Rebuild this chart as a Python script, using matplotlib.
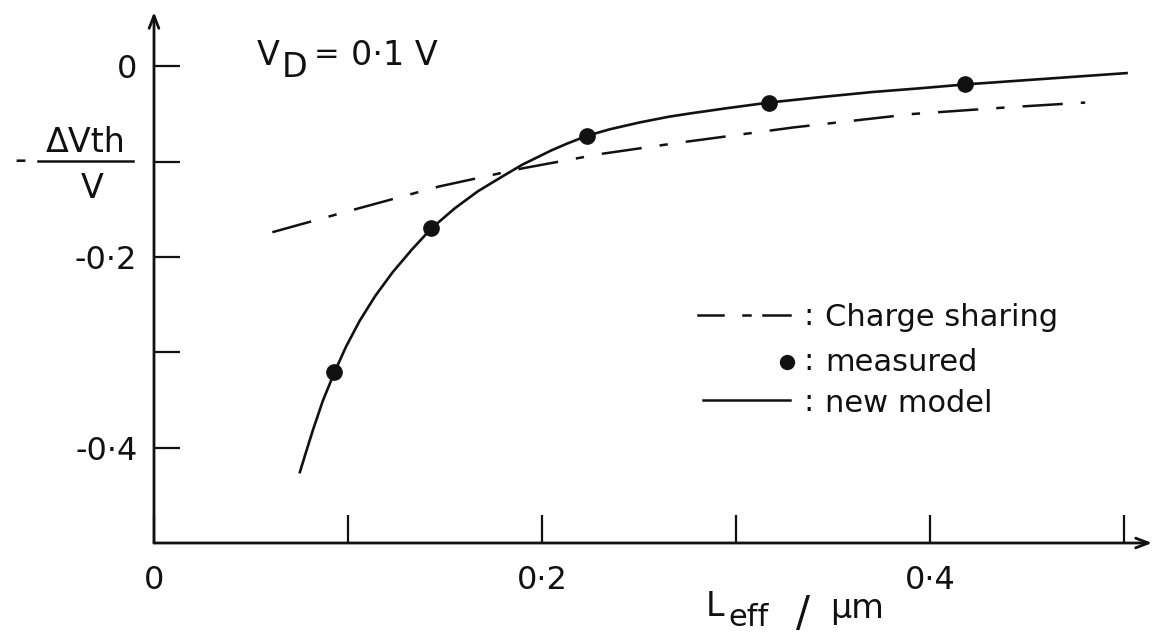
import matplotlib
matplotlib.use("Agg")
import matplotlib.pyplot as plt
from matplotlib.lines import Line2D

plt.rcParams["font.family"] = ["DejaVu Sans"]
plt.rcParams["lines.scale_dashes"] = False

# Measured threshold-voltage shift vs. effective channel length
measured_L = [0.093, 0.143, 0.223, 0.317, 0.418]
measured_dV = [-0.321, -0.170, -0.073, -0.038, -0.019]

# New model curve
model_L = [0.075, 0.078, 0.082, 0.087, 0.093, 0.099, 0.106, 0.114, 0.123,
           0.133, 0.143, 0.155, 0.167, 0.180, 0.190, 0.205, 0.213, 0.223,
           0.235, 0.250, 0.265, 0.276, 0.295, 0.317, 0.345, 0.370, 0.395,
           0.418, 0.460, 0.502]
model_dV = [-0.427, -0.407, -0.381, -0.351, -0.321, -0.294, -0.267, -0.241, -0.216,
            -0.192, -0.170, -0.149, -0.131, -0.115, -0.103, -0.088, -0.081, -0.073,
            -0.066, -0.059, -0.053, -0.0495, -0.044, -0.038, -0.032, -0.027, -0.023,
            -0.019, -0.013, -0.007]

# Charge-sharing model
sharing_L = [0.061, 0.100, 0.147, 0.190, 0.230, 0.271, 0.330, 0.391, 0.440, 0.480]
sharing_dV = [-0.174, -0.152, -0.126, -0.107, -0.092, -0.080, -0.064, -0.050, -0.043, -0.038]

x_ticks = [0.0, 0.1, 0.2, 0.3, 0.4, 0.5]
x_ticklabels = ["0", "", "0·2", "", "0·4", ""]
y_ticks = [0.0, -0.1, -0.2, -0.3, -0.4]
y_ticklabels = ["0", "", "-0·2", "", "-0·4"]

W, H = 1160, 634
fig = plt.figure(figsize=(W / 100, H / 100), dpi=100)
fig.patch.set_facecolor("white")
ax = fig.add_axes([154 / W, 1 - 543 / H, (1152 - 154) / W, (543 - 12) / H])
ax.set_xlim(0, (1152 - 154) / 1940)
ax.set_ylim(-0.5, (66 - 12) / 947.5)

ink = "#111111"
fs = 23

ax.plot(sharing_L, sharing_dV, color=ink, lw=1.8, dashes=[29, 13, 6, 13])
ax.plot(model_L, model_dV, color=ink, lw=1.9, solid_capstyle="butt")
ax.plot(measured_L, measured_dV, "o", color=ink, ms=11)

for s in ["top", "right", "left", "bottom"]:
    ax.spines[s].set_visible(False)

# axes drawn as arrows
arrow = dict(arrowstyle="->,head_length=0.9,head_width=0.35",
             lw=2.0, color=ink, shrinkA=0, shrinkB=0)
ax.annotate("", xy=(0, 1.0), xytext=(0, 0), xycoords="axes fraction", arrowprops=arrow)
ax.annotate("", xy=(1.0, 0), xytext=(0, 0), xycoords="axes fraction", arrowprops=arrow)

ax.set_xticks(x_ticks)
ax.set_xticklabels(x_ticklabels)
ax.set_yticks(y_ticks)
ax.set_yticklabels(y_ticklabels)
ax.tick_params(axis="x", direction="in", length=20, width=1.6, colors=ink,
               labelsize=fs, pad=16)
ax.tick_params(axis="y", direction="in", length=19, width=1.6, colors=ink,
               labelsize=fs, pad=12)


def ftext(px, py, s, **kw):
    kw.setdefault("color", ink)
    kw.setdefault("fontsize", fs)
    fig.text(px / W, 1 - py / H, s, **kw)


def fline(x0, x1, y, lw=1.8):
    fig.add_artist(Line2D([x0 / W, x1 / W], [1 - y / H, 1 - y / H],
                          transform=fig.transFigure, color=ink, lw=lw))


# y-axis label as a fraction
ftext(20, 161, "-", ha="center", va="center", fontsize=24)
ftext(86, 152, "ΔVth", ha="center", va="baseline", fontsize=24)
fline(38, 133, 161)
ftext(92, 198, "V", ha="center", va="baseline", fontsize=24)

# x-axis label
ftext(706, 616, "L", ha="left", va="baseline", fontsize=24)
ftext(728, 626, "eff", ha="left", va="baseline", fontsize=22)
ftext(796, 626, "/", ha="left", va="baseline", fontsize=30)
ftext(830, 618, "μm", ha="left", va="baseline", fontsize=24)

# drain voltage annotation
ftext(257, 65, "V", ha="left", va="baseline", fontsize=24)
ftext(282, 77, "D", ha="left", va="baseline", fontsize=24)
ftext(314, 63, "=", ha="left", va="baseline", fontsize=22)
ftext(351, 65, "0·1 V", ha="left", va="baseline", fontsize=24)

# key
fline(698, 723, 315)
fline(743, 750, 315)
fline(763, 790, 315)
ftext(803, 325, ":", ha="left", va="baseline", fontsize=22)
ftext(825, 326, "Charge sharing", ha="left", va="baseline", fontsize=22)
fig.add_artist(Line2D([787 / W], [1 - 362 / H], transform=fig.transFigure,
                      marker="o", ms=10, color=ink, lw=0))
ftext(803, 370, ":", ha="left", va="baseline", fontsize=22)
ftext(825, 371, "measured", ha="left", va="baseline", fontsize=22)
fline(703, 790, 400)
ftext(803, 411, ":", ha="left", va="baseline", fontsize=22)
ftext(825, 412, "new model", ha="left", va="baseline", fontsize=22)

fig.savefig("out.png", dpi=100, facecolor="white")
